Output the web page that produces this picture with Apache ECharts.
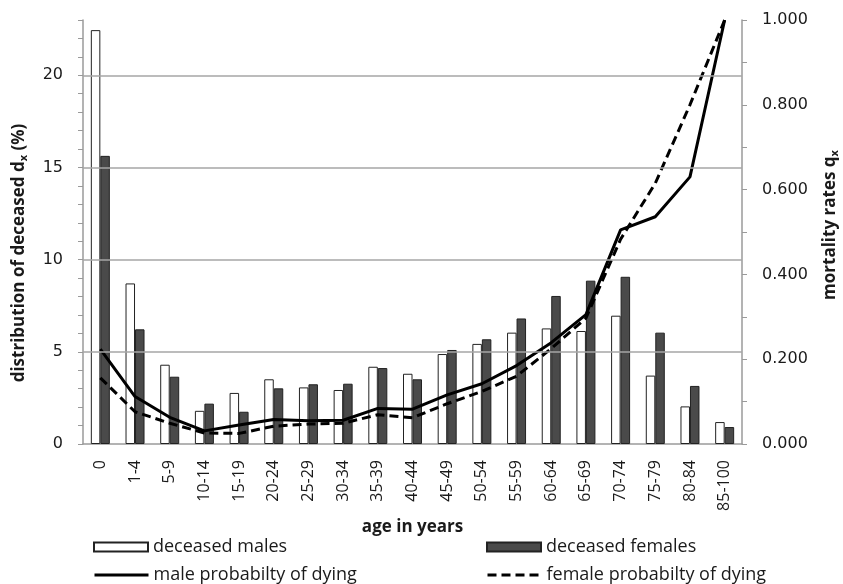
<!DOCTYPE html>
<html>
<head>
<meta charset="utf-8">
<script src="https://cdn.jsdelivr.net/npm/echarts@6/dist/echarts.min.js"></script>
<style>
  html, body { margin: 0; padding: 0; background: #fff; }
  #chart { width: 843px; height: 584px; }
</style>
</head>
<body>
<div id="chart"></div>
<script>
var ageGroups = ['0', '1-4', '5-9', '10-14', '15-19', '20-24', '25-29', '30-34', '35-39', '40-44',
  '45-49', '50-54', '55-59', '60-64', '65-69', '70-74', '75-79', '80-84', '85-100']
// share of deceased in %
var deceasedMales = [22.45, 8.71, 4.3, 1.8, 2.77, 3.51, 3.07, 2.93, 4.19, 3.81,
  4.88, 5.43, 6.04, 6.27, 6.13, 6.96, 3.71, 2.04, 1.19]
var deceasedFemales = [15.63, 6.22, 3.65, 2.19, 1.75, 3.02, 3.24, 3.27, 4.12, 3.51,
  5.1, 5.68, 6.81, 8.03, 8.86, 9.07, 6.04, 3.15, 0.92]
// probability of dying qx
var maleQx = [0.224, 0.112, 0.063, 0.031, 0.045, 0.058, 0.055, 0.056, 0.084, 0.082,
  0.116, 0.142, 0.185, 0.239, 0.305, 0.505, 0.536, 0.63, 1.0]
var femaleQx = [0.156, 0.076, 0.049, 0.026, 0.025, 0.042, 0.047, 0.049, 0.069, 0.062,
  0.095, 0.124, 0.16, 0.225, 0.297, 0.483, 0.615, 0.8, 1.0]
var gridValues = [5, 10, 15, 20]

var chart = echarts.init(document.getElementById('chart'))
var txt = '#1a1a1a'
var axisGray = '#9a9a9a'
var font = 'Open Sans'

// one legend per entry so the 2x2 layout sits where the original has it
function legendAt(left, top, item) {
  return {
    orient: 'horizontal', left: left, top: top, itemWidth: 54, itemHeight: 9, itemGap: 4,
    textStyle: { fontFamily: font, fontSize: 18, color: txt },
    data: [item]
  }
}

var titleRich = {
  a: { fontFamily: font, fontWeight: 'bold', fontSize: 17, color: txt },
  s: { fontFamily: font, fontWeight: 'bold', fontSize: 11, color: txt, padding: [9, 0, 0, 0] }
}

var option = {
  animation: false,
  grid: { left: 83, right: 101, top: 20, bottom: 140, outerBoundsMode: 'none' },
  legend: [
    legendAt(88, 533, { name: 'deceased males', icon: 'rect' }),
    legendAt(481, 533, { name: 'deceased females', icon: 'rect' }),
    legendAt(88, 561, { name: 'male probabilty of dying', itemStyle: { opacity: 0 }, lineStyle: { width: 3 } }),
    legendAt(481, 561, { name: 'female probabilty of dying', itemStyle: { opacity: 0 }, lineStyle: { width: 3 } })
  ],
  xAxis: {
    type: 'category',
    data: ageGroups,
    name: 'age in years',
    nameLocation: 'middle',
    nameGap: 68,
    nameTextStyle: { fontFamily: font, fontWeight: 'bold', fontSize: 17, color: txt },
    axisLine: { lineStyle: { color: axisGray, width: 1.5 } },
    axisTick: { length: 5, lineStyle: { color: axisGray } },
    axisLabel: { rotate: 90, margin: 16, fontFamily: font, fontSize: 16, color: txt }
  },
  yAxis: [{
    type: 'value', min: 0, max: 23, interval: 1,
    name: '{a|distribution of deceased d}{s|x}{a| (%)}',
    nameLocation: 'middle',
    nameGap: 54,
    nameTextStyle: { rich: titleRich, padding: [0, 42, 0, 0] },
    axisLine: { show: true, lineStyle: { color: axisGray, width: 1.5 } },
    axisTick: { show: true, length: 5, lineStyle: { color: axisGray } },
    axisLabel: {
      margin: 20, fontFamily: 'DejaVu Sans', fontSize: 16, color: txt,
      formatter: function (v) { return v % 5 === 0 ? String(v) : '' }
    },
    splitLine: { show: false }
  }, {
    type: 'value', min: 0, max: 1, interval: 0.1,
    name: '{a|mortality rates q}{s|x}',
    nameLocation: 'middle',
    nameGap: 78,
    nameRotate: 90,
    nameTextStyle: { rich: titleRich, padding: [0, 0, 0, 14] },
    axisLine: { show: true, lineStyle: { color: axisGray, width: 1.5 } },
    axisTick: { show: true, length: 5, lineStyle: { color: axisGray } },
    axisLabel: {
      margin: 20, fontFamily: 'DejaVu Sans', fontSize: 16, color: txt,
      formatter: function (v) { return Math.round(v * 10) % 2 === 0 ? v.toFixed(3) : '' }
    },
    splitLine: { show: false }
  }],
  series: [{
    name: 'grid',
    type: 'line',
    data: [],
    z: 1,
    markLine: {
      silent: true,
      symbol: 'none',
      label: { show: false },
      lineStyle: { color: '#a6a6a6', width: 1.5, type: 'solid' },
      data: gridValues.map(function (v) { return { yAxis: v } })
    }
  }, {
    name: 'deceased males',
    type: 'bar',
    data: deceasedMales,
    barWidth: 9.5,
    barGap: '0%',
    z: 2,
    itemStyle: { color: '#ffffff', borderColor: '#222', borderWidth: 1 }
  }, {
    name: 'deceased females',
    type: 'bar',
    data: deceasedFemales,
    barWidth: 9.5,
    z: 2,
    itemStyle: { color: '#4a4a4a', borderColor: '#222', borderWidth: 1 }
  }, {
    name: 'male probabilty of dying',
    type: 'line',
    yAxisIndex: 1,
    data: maleQx,
    symbol: 'none',
    z: 3,
    lineStyle: { color: '#000', width: 3 },
    itemStyle: { color: '#000' }
  }, {
    name: 'female probabilty of dying',
    type: 'line',
    yAxisIndex: 1,
    data: femaleQx,
    symbol: 'none',
    z: 3,
    lineStyle: { color: '#000', width: 3, type: [9, 5] },
    itemStyle: { color: '#000' }
  }]
}
chart.setOption(option)
</script>
</body>
</html>
